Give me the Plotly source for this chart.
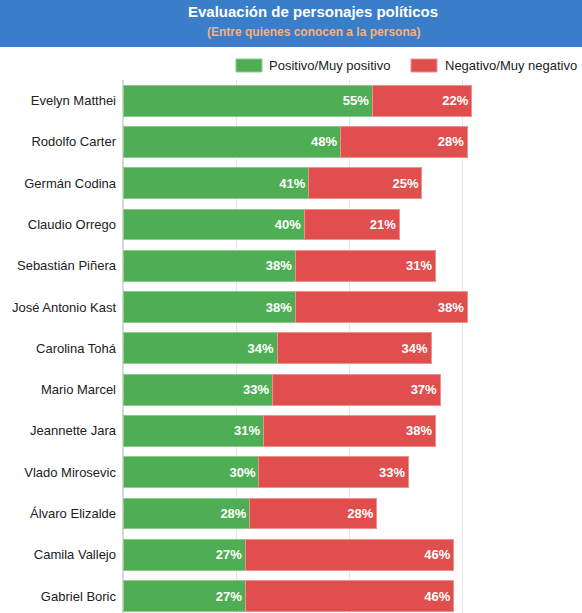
import plotly.graph_objects as go

personas = ["Evelyn Matthei", "Rodolfo Carter", "Germán Codina", "Claudio Orrego",
            "Sebastián Piñera", "José Antonio Kast", "Carolina Tohá", "Mario Marcel",
            "Jeannette Jara", "Vlado Mirosevic", "Álvaro Elizalde", "Camila Vallejo",
            "Gabriel Boric"]
positivo = [55, 48, 41, 40, 38, 38, 34, 33, 31, 30, 28, 27, 27]
negativo = [22, 28, 25, 21, 31, 38, 34, 37, 38, 33, 28, 46, 46]

verde = "#4fae54"
rojo = "#e04e4e"
azul = "#3a7dc8"

W, H = 582, 613
ml, mr, mt, mb = 123, 6, 80, 0
ph = H - mt - mb
pw = W - ml - mr


def px_x(x):
    return (x - ml) / pw


def px_y(y):
    return (H - mb - y) / ph


fig = go.Figure()
fig.add_trace(go.Bar(
    y=personas, x=positivo, orientation="h", name="Positivo/Muy positivo",
    marker=dict(color=verde, line=dict(color="#8ccd8f", width=1)),
    text=[f"{v}%" for v in positivo], textposition="inside", insidetextanchor="end",
    textfont=dict(color="white", size=13, family="Liberation Sans", weight="bold"),
    hoverinfo="skip",
))
fig.add_trace(go.Bar(
    y=personas, x=negativo, orientation="h", name="Negativo/Muy negativo",
    marker=dict(color=rojo, line=dict(color="#ee9090", width=1)),
    text=[f"{v}%" for v in negativo], textposition="inside", insidetextanchor="end",
    textfont=dict(color="white", size=13, family="Liberation Sans", weight="bold"),
    hoverinfo="skip",
))

shapes = [
    # franja del encabezado
    dict(type="rect", xref="paper", yref="paper", x0=px_x(0), x1=px_x(W),
         y0=px_y(47), y1=px_y(0), fillcolor=azul, line_width=0, layer="below"),
    # cuadros de la leyenda
    dict(type="rect", xref="paper", yref="paper", x0=px_x(236), x1=px_x(262),
         y0=px_y(72), y1=px_y(59), fillcolor=verde, line=dict(color="#8ccd8f", width=1)),
    dict(type="rect", xref="paper", yref="paper", x0=px_x(411), x1=px_x(437),
         y0=px_y(72), y1=px_y(59), fillcolor=rojo, line=dict(color="#ee9090", width=1)),
]

annotations = [
    dict(text="<b>Evaluación de personajes políticos</b>", x=px_x(313), y=px_y(12),
         xref="paper", yref="paper", showarrow=False, xanchor="center", yanchor="middle",
         font=dict(color="white", size=15, family="Liberation Sans")),
    dict(text="<b>(Entre quienes conocen a la persona)</b>", x=px_x(313), y=px_y(32),
         xref="paper", yref="paper", showarrow=False, xanchor="center", yanchor="middle",
         font=dict(color="#f4b183", size=12, family="Liberation Sans")),
    dict(text="Positivo/Muy positivo", x=px_x(267), y=px_y(65.5),
         xref="paper", yref="paper", showarrow=False, xanchor="left", yanchor="middle",
         font=dict(color="#222222", size=13, family="Liberation Sans")),
    dict(text="Negativo/Muy negativo", x=px_x(443), y=px_y(65.5),
         xref="paper", yref="paper", showarrow=False, xanchor="left", yanchor="middle",
         font=dict(color="#222222", size=13, family="Liberation Sans")),
]

fig.update_layout(
    width=W, height=H,
    margin=dict(l=ml, r=mr, t=mt, b=mb, pad=0),
    barmode="stack", bargap=0.25,
    showlegend=False,
    plot_bgcolor="white", paper_bgcolor="white",
    shapes=shapes, annotations=annotations,
    uniformtext=dict(minsize=13, mode="show"),
    xaxis=dict(range=[0, 100], tickvals=[0, 25, 50, 75, 100], showticklabels=False,
               showgrid=True, gridcolor="#e6e6e6", zeroline=True, zerolinecolor="#d9d9d9",
               fixedrange=True),
    yaxis=dict(range=[12.41, -0.5], showgrid=False, ticks="", ticklabelstandoff=6,
               tickfont=dict(color="#222222", size=13, family="Liberation Sans")),
)

fig.write_html("out.html", config={"displayModeBar": False},
               post_script="document.body.style.margin='0';")
